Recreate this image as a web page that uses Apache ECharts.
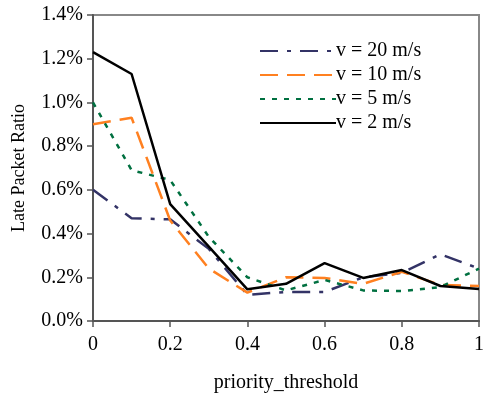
<!DOCTYPE html>
<html>
<head>
<meta charset="utf-8">
<script src="https://cdn.jsdelivr.net/npm/echarts@6/dist/echarts.min.js"></script>
<style>
  html, body { margin: 0; padding: 0; background: #fff; }
  #chart { width: 484px; height: 404px; }
</style>
</head>
<body>
<div id="chart"></div>
<script>
// priority_threshold values
const thresholds = [0, 0.1, 0.2, 0.3, 0.4, 0.5, 0.6, 0.7, 0.8, 0.9, 1.0];
// late packet ratio, percent
const v20 = [0.60, 0.47, 0.465, 0.33, 0.12, 0.133, 0.133, 0.20, 0.22, 0.305, 0.24];
const v10 = [0.90, 0.93, 0.46, 0.24, 0.13, 0.20, 0.197, 0.17, 0.225, 0.165, 0.16];
const v5 = [1.00, 0.69, 0.645, 0.385, 0.20, 0.14, 0.188, 0.14, 0.137, 0.155, 0.24];
const v2 = [1.23, 1.13, 0.535, 0.34, 0.145, 0.17, 0.265, 0.197, 0.233, 0.16, 0.146];
const seriesNames = ['v = 20 m/s', 'v = 10 m/s', 'v = 5 m/s', 'v = 2 m/s'];

const font = '"Liberation Serif", "Times New Roman", serif';
const pairs = arr => thresholds.map((t, i) => [t, arr[i]]);

const chart = echarts.init(document.getElementById('chart'));

function line(name, data, color, width, dash) {
  return {
    name, type: 'line', data: pairs(data),
    symbol: 'none', animation: false,
    lineStyle: { color, width, type: dash },
    itemStyle: { color }
  };
}

chart.setOption({
  animation: false,
  grid: { left: 93, right: 5, top: 15, bottom: 83, show: true, borderColor: '#888', borderWidth: 2,
    outerBoundsMode: 'none', containLabel: false },
  legend: {
    left: 254, top: 36, orient: 'vertical',
    itemWidth: 76, itemHeight: 8, itemGap: 4,
    itemStyle: { opacity: 0 },
    textStyle: { fontFamily: font, fontSize: 20, color: '#000', padding: [0, 0, 0, -5] },
    data: seriesNames
  },
  xAxis: {
    type: 'value', min: 0, max: 1, interval: 0.2,
    name: 'priority_threshold', nameLocation: 'middle', nameGap: 52,
    nameTextStyle: { fontFamily: font, fontSize: 20, color: '#000' },
    axisLine: { lineStyle: { color: '#555', width: 2 } },
    axisTick: { show: true, length: 6, lineStyle: { color: '#555', width: 1.5 } },
    axisLabel: { fontFamily: font, fontSize: 20, color: '#000', margin: 14,
      formatter: v => (v === 0 || v === 1) ? String(v) : v.toFixed(1) },
    splitLine: { show: false }
  },
  yAxis: {
    type: 'value', min: 0, max: 1.4, interval: 0.2,
    name: 'Late Packet Ratio', nameLocation: 'middle', nameGap: 65,
    nameTextStyle: { fontFamily: font, fontSize: 18, color: '#000' },
    axisLine: { show: true, lineStyle: { color: '#555', width: 2 } },
    axisTick: { show: true, length: 6, lineStyle: { color: '#555', width: 1.5 } },
    axisLabel: { fontFamily: font, fontSize: 20, color: '#000', margin: 10,
      formatter: v => v.toFixed(1) + '%' },
    splitLine: { show: false }
  },
  series: [
    line(seriesNames[0], v20, '#333366', 2.5, [18, 9, 4, 9]),
    line(seriesNames[1], v10, '#ff8020', 2.5, [18, 9]),
    line(seriesNames[2], v5, '#007040', 2.5, [5, 7]),
    line(seriesNames[3], v2, '#000000', 2.5, 'solid')
  ]
});
</script>
</body>
</html>
